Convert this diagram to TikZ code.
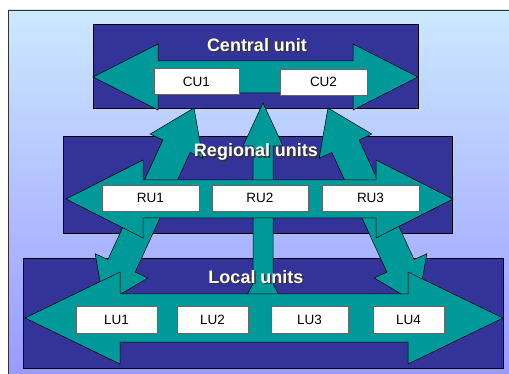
\documentclass[tikz,border=0pt]{standalone}
\usepackage{fontspec}
\setmainfont{Liberation Sans}
\usepackage{tikz}
\usetikzlibrary{shadows}

\definecolor{skytop}{HTML}{CCE8FF}
\definecolor{skybottom}{HTML}{9999FF}
\definecolor{unitblue}{HTML}{333399}
\definecolor{arrowteal}{HTML}{009999}

% double block arrow along x: length, head length, shaft half width, head half width
\newcommand\dblarrow[4]{(0,0) -- (#2,#4) -- (#2,#3) -- ({#1-#2},#3) -- ({#1-#2},#4) -- (#1,0)
  -- ({#1-#2},-#4) -- ({#1-#2},-#3) -- (#2,-#3) -- (#2,-#4) -- cycle}

% white title with dark shadow
\newcommand\leveltitle[3]{%
  \node[titleshadow] at (#2) {#3};
  \node[titletext] (#1) at (#2) {#3};}

\tikzset{
  levelbox/.style={draw=black, line width=0.6pt, fill=unitblue},
  blockarrow/.style={draw=black, line width=0.5pt, fill=arrowteal, line join=miter},
  unitbox/.style={draw=black!60, line width=0.5pt, fill=white, minimum height=26pt,
    inner sep=0pt, font=\fontsize{13.5}{15}\selectfont,
    drop shadow={shadow xshift=1pt, shadow yshift=-1pt, fill=black!55, opacity=1}},
  titletext/.style={text=white, font=\fontsize{18}{20}\selectfont\bfseries, inner sep=0pt},
  titleshadow/.style={titletext, text=black!80, xshift=1.5pt, yshift=-1.5pt},
}

\begin{document}
\begin{tikzpicture}[x=1pt, y=-1pt]
\clip (0,0) rectangle (509,374);
\fill[white] (0,0) rectangle (509,374);

% Background panel
\shade[top color=skytop, bottom color=skybottom] (8,10) rectangle (530,378);
\draw[black!80, line width=0.8pt] (8,10) rectangle (530,378);

% Level boxes
\draw[levelbox] (93,24) rectangle (418,108);
\draw[levelbox] (63,136) rectangle (452,233);
\draw[levelbox] (23,258) rectangle (503,368);

% Arrows between the levels
\draw[blockarrow, shift={(104,304)}, rotate=65.33] \dblarrow{215.7}{42}{15}{29};
\draw[blockarrow, shift={(418,304)}, rotate=114.67] \dblarrow{215.7}{42}{15}{29};
\draw[blockarrow] (245,298) -- (253,284) -- (253,146) -- (243,146) -- (263,103)
  -- (283,146) -- (273,146) -- (273,284) -- (281,298) -- cycle;

% Arrows inside the levels
\draw[blockarrow, shift={(93,77)}] \dblarrow{325}{65}{16}{33};
\draw[blockarrow, shift={(66,199)}] \dblarrow{387}{77}{19}{39};
\draw[blockarrow, shift={(25,318)}] \dblarrow{478}{95}{24}{46};

% Units
\node[unitbox, minimum width=85pt] (cu1) at (196.5,81.5) {CU1};
\node[unitbox, minimum width=87pt] (cu2) at (323.5,82) {CU2};

\node[unitbox, minimum width=97pt] (ru1) at (150.5,198) {RU1};
\node[unitbox, minimum width=96pt] (ru2) at (260,198) {RU2};
\node[unitbox, minimum width=97pt] (ru3) at (370.5,198) {RU3};

\node[unitbox, minimum width=81pt, minimum height=27pt] (lu1) at (116.5,319.5) {LU1};
\node[unitbox, minimum width=71pt, minimum height=27pt] (lu2) at (212.5,319.5) {LU2};
\node[unitbox, minimum width=77pt, minimum height=27pt] (lu3) at (309.5,319.5) {LU3};
\node[unitbox, minimum width=71pt, minimum height=27pt] (lu4) at (408.5,319.5) {LU4};

% Titles
\leveltitle{central}{257,45}{Central unit}
\leveltitle{regional}{256,152}{Regional units}
\leveltitle{local}{256,277}{Local units}
\end{tikzpicture}
\end{document}
